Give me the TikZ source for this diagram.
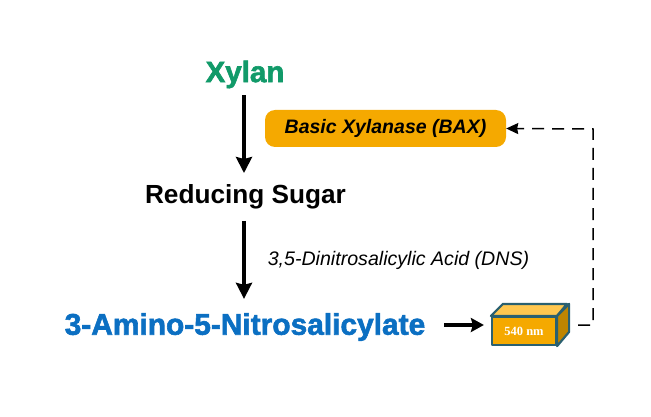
\documentclass[tikz,border=0pt]{standalone}
\usepackage{fontspec}
\setmainfont{Liberation Sans}
\newfontfamily\heavyfont[FakeBold=2]{Liberation Sans Bold}
\newfontfamily\labelfont{Liberation Serif}
\usetikzlibrary{arrows.meta}
\definecolor{xylangreen}{HTML}{119A69}
\definecolor{aminoblue}{HTML}{0B6FC2}
\definecolor{baxorange}{HTML}{F5A900}
\definecolor{boxtop}{HTML}{FFC74F}
\definecolor{boxside}{HTML}{BF8500}
\definecolor{boxedge}{HTML}{2A6070}
\tikzset{
	mainarrow/.style={line width=4.2pt,-{Stealth[length=16pt,width=16pt,inset=2pt]}},
	smallarrow/.style={line width=3.6pt,-{Stealth[length=13pt,width=14pt,inset=2pt]}},
	dasharrow/.style={line width=1.5pt,dash pattern=on 12pt off 8pt,-{Stealth[length=12pt,width=11pt,inset=1pt]}},
	boxline/.style={draw=boxedge,line width=2.2pt,line join=round}
}
\begin{document}
\begin{tikzpicture}[x=1pt,y=-1pt]
	\useasboundingbox (0,0) rectangle (651,417);
	\node[inner sep=0pt,text=xylangreen,font=\heavyfont\fontsize{29.5}{32}\selectfont] (xylan) at (245,74.5) {Xylan};
	\node[inner sep=0pt,font=\bfseries\fontsize{26.2}{30}\selectfont] (sugar) at (245.5,196.5) {Reducing Sugar};
	\node[inner sep=0pt,text=aminoblue,font=\heavyfont\fontsize{29.9}{32}\selectfont] (amino) at (245,327) {3-Amino-5-Nitrosalicylate};
	\node[fill=baxorange,rounded corners=10pt,minimum width=241pt,minimum height=37pt,inner sep=0pt,font=\bfseries\itshape\fontsize{19.5}{22}\selectfont] (bax) at (385.5,128.5) {\raisebox{-1pt}{Basic Xylanase (BAX)}};
	\node[inner sep=0pt,font=\itshape\fontsize{19.6}{22}\selectfont] (dns) at (398.5,260) {3,5-Dinitrosalicylic Acid (DNS)};
	% cuvette
	\node[boxline,fill=baxorange,minimum width=64pt,minimum height=28pt,inner sep=0pt,text=white,font=\labelfont\bfseries\fontsize{12.5}{14}\selectfont] (cuvette) at (524,331) {540 nm};
	\filldraw[boxline,fill=boxtop] (cuvette.north west)--+(12,-12)--+(76,-12)--(cuvette.north east)--cycle;
	\filldraw[boxline,fill=boxside] (cuvette.north east)--+(12,-12)--+(12,16)--(cuvette.south east)--cycle;
	\coordinate (turn) at (593,129);
	\coordinate (boxout) at (578,325);
	\draw[mainarrow,shorten <=7pt,shorten >=11pt] ([xshift=-1pt]xylan.south)--([xshift=-1.5pt]sugar.north);
	\draw[mainarrow,shorten <=12pt,shorten >=14pt] ([xshift=-1.5pt]sugar.south)--([xshift=-1pt]amino.north);
	\draw[smallarrow,shorten <=19pt,shorten >=7pt] ([yshift=2pt]amino.east)--([yshift=6pt]cuvette.west);
	\draw[dasharrow] (boxout)-|(turn)--(bax.east);
\end{tikzpicture}
\end{document}
